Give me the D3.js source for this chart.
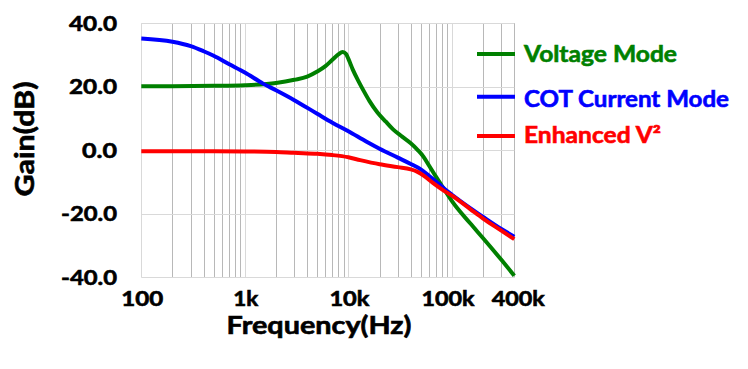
<!DOCTYPE html>
<html><head><meta charset="utf-8">
<script src="https://cdn.jsdelivr.net/npm/d3@7/dist/d3.min.js"></script>
<style>html,body{margin:0;padding:0;background:#fff;}svg{display:block;}</style>
</head><body>
<svg id="chart" width="748" height="369"></svg>
<script>
const freqTicks = [100, 1000, 10000, 100000, 400000];
const freqTickLabels = ["100", "1k", "10k", "100k", "400k"];
const gainTicks = [40, 20, 0, -20, -40];
const gainTickLabels = ["40.0", "20.0", "0.0", "-20.0", "-40.0"];
const seriesNames = ["Voltage Mode", "COT Current Mode", "Enhanced V²"];
const seriesColors = ["#008000", "#0000ff", "#ff0000"];

const voltageFreq = [100,200,500,1000,2000,3000,4000,5000,6000,7000,8000,8800,9500,10000,11000,12500,14000,16000,19000,23000,27000,33000,40000,47000,53000,60000,70000,85000,100000,150000,200000,300000,400000];
const voltageGain = [20.2,20.2,20.3,20.5,21.2,22.2,23.2,24.8,26.5,28.5,30.2,31.0,30.3,28.8,25.5,21.8,18.8,15.5,12,9,6.6,4.3,2.2,0,-2,-4.8,-8.3,-12.5,-16,-23,-27.7,-34.5,-39.5];

const cotFreq = [100,200,300,400,500,700,1000,1500,2000,3000,5000,7000,10000,15000,20000,30000,40000,50000,60000,70000,85000,100000,150000,200000,300000,400000];
const cotGain = [35.2,34.2,32.8,31.2,29.8,27.2,24.5,21,18.9,15.8,11.5,8.7,6,2.7,0.5,-2.3,-4.3,-6,-8,-9.8,-12.2,-14,-18.2,-21,-24.8,-27.2];

const v2Freq = [100,500,1000,2000,3000,5000,7000,10000,13000,20000,30000,40000,46000,55000,65000,80000,100000,150000,200000,300000,400000];
const v2Gain = [-0.3,-0.3,-0.35,-0.5,-0.8,-1.1,-1.5,-2.2,-3.1,-4.4,-5.3,-6,-6.7,-8.3,-10.2,-12.3,-14.3,-18.5,-21.5,-25.3,-28];

const svg = d3.select("#chart");
const font = "Lato, 'Open Sans', sans-serif";
const x = d3.scaleLog().domain([100, 400000]).range([141.3, 514.3]);
const y = d3.scaleLinear().domain([-40, 40]).range([277.3, 23.3]);

// vertical gridlines
const minor = [];
for (let dec = 100; dec <= 100000; dec *= 10) {
  for (let m = 1; m <= 9; m++) { const f = dec * m; if (f <= 400000) minor.push(f); }
}
svg.append("g").selectAll("line").data(minor).join("line")
  .attr("x1", d => Math.round(x(d)) + 0.5).attr("x2", d => Math.round(x(d)) + 0.5)
  .attr("y1", y(40)).attr("y2", y(-40))
  .attr("stroke", d => [100,1000,10000,100000].includes(d) ? "#d9d9d9" : "#b8b8b8")
  .attr("stroke-width", 1);
svg.append("line").attr("x1", Math.round(x(400000))+0.5).attr("x2", Math.round(x(400000))+0.5)
  .attr("y1", y(40)).attr("y2", y(-40)).attr("stroke", "#b8b8b8");

// horizontal gridlines
svg.append("g").selectAll("line").data(gainTicks).join("line")
  .attr("x1", x(100)).attr("x2", x(400000))
  .attr("y1", d => Math.round(y(d)) + 0.5).attr("y2", d => Math.round(y(d)) + 0.5)
  .attr("stroke", "#d9d9d9").attr("stroke-width", 1);

function heavy(sel, color) {
  return sel.attr("fill", color).attr("stroke", color).attr("stroke-width", 0.6).attr("paint-order", "stroke");
}

// y tick labels
const yWidths = {"40.0":48, "20.0":48, "0.0":35, "-20.0":56, "-40.0":56};
heavy(svg.append("g").selectAll("text").data(gainTicks).join("text")
  .attr("x", 117).attr("y", d => y(d) + 7.5)
  .attr("text-anchor", "end")
  .attr("font-family", font).attr("font-weight", "bold").attr("font-size", 21)
  .attr("textLength", (d, i) => yWidths[gainTickLabels[i]])
  .attr("lengthAdjust", "spacingAndGlyphs")
  .text((d, i) => gainTickLabels[i]), "#000");

// x tick labels
const xWidths = {"100":42, "1k":25, "10k":40, "100k":53, "400k":53};
heavy(svg.append("g").selectAll("text").data(freqTicks).join("text")
  .attr("x", d => x(d) + (d === 400000 ? 4 : (d === 100000 ? -4 : 1)))
  .attr("y", 306)
  .attr("text-anchor", "middle")
  .attr("font-family", font).attr("font-weight", "bold").attr("font-size", 20)
  .attr("textLength", (d, i) => xWidths[freqTickLabels[i]])
  .attr("lengthAdjust", "spacingAndGlyphs")
  .text((d, i) => freqTickLabels[i]), "#000");

// axis titles
heavy(svg.append("text").attr("x", 319).attr("y", 334).attr("text-anchor", "middle")
  .attr("font-family", font).attr("font-weight", "bold").attr("font-size", 24)
  .attr("textLength", 185).attr("lengthAdjust", "spacingAndGlyphs")
  .text("Frequency(Hz)"), "#000");
heavy(svg.append("text").attr("transform", "translate(34,139) rotate(-90)").attr("text-anchor", "middle")
  .attr("font-family", font).attr("font-weight", "bold").attr("font-size", 26)
  .attr("textLength", 115).attr("lengthAdjust", "spacingAndGlyphs")
  .text("Gain(dB)"), "#000");

// series lines
const series = [
  {f: voltageFreq, g: voltageGain},
  {f: cotFreq, g: cotGain},
  {f: v2Freq, g: v2Gain}
];
const line = d3.line().x(d => x(d[0])).y(d => y(d[1])).curve(d3.curveMonotoneX);
series.forEach((s, i) => {
  const pts = s.f.map((f, j) => [f, s.g[j]]);
  svg.append("path").datum(pts).attr("d", line)
    .attr("fill", "none").attr("stroke", seriesColors[i])
    .attr("stroke-width", 4).attr("stroke-linejoin", "round");
});

// legend
const legY = [54, 96.7, 136];
const legBase = [62.3, 106.7, 143.3];
const legW = [153, 205, 137];
const lg = svg.append("g");
seriesNames.forEach((n, i) => {
  lg.append("line").attr("x1", 477).attr("x2", 515).attr("y1", legY[i]).attr("y2", legY[i])
    .attr("stroke", seriesColors[i]).attr("stroke-width", 4);
  heavy(lg.append("text").attr("x", 524).attr("y", legBase[i])
    .attr("font-family", font).attr("font-weight", "bold").attr("font-size", 22)
    .attr("textLength", legW[i]).attr("lengthAdjust", "spacingAndGlyphs")
    .text(n), seriesColors[i]);
});
</script>
</body></html>
